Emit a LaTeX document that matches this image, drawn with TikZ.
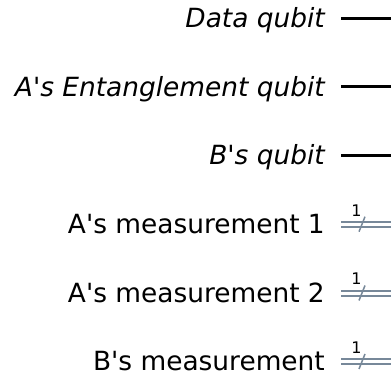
\documentclass[tikz,border=0pt]{standalone}
\usepackage{fontspec}
% plain family: keeps the straight apostrophe
\newfontfamily\dvs{DejaVu Sans}
\definecolor{cwire}{HTML}{778899}
\begin{document}
\begin{tikzpicture}[x=1pt,y=-1pt,
  lbl/.style={anchor=base east, inner sep=0pt, font=\dvs\fontsize{26.4}{30}\selectfont},
  qlbl/.style={lbl, font=\dvs\fontsize{26.4}{30}\selectfont\itshape},
  qwire/.style={draw=black, line width=3pt},
  cwireline/.style={draw=cwire, line width=2pt},
  bits/.style={inner sep=0pt, font=\dvs\fontsize{16}{18}\selectfont}]
\useasboundingbox (0,0) rectangle (391,374);
% quantum register labels and wires
\foreach \name/\y/\txt in {q0/18.5/{Data qubit}, q1/87/{A's Entanglement qubit}, q2/155.5/{B's qubit}} {
  \node[qlbl] (\name) at (325,\y+9.4) {\txt};
  \coordinate (\name s) at (341,\y);
  \coordinate (\name e) at (391,\y);
  \draw[qwire] (\name s) -- (\name e);
}
% classical register labels and double wires
\foreach \name/\y/\txt in {c0/224.2/{A's measurement 1}, c1/293/{A's measurement 2}, c2/361.5/{B's measurement}} {
  \node[lbl] (\name) at (325,\y+9.4) {\txt};
  \coordinate (\name s) at (341,\y);
  \coordinate (\name e) at (391,\y);
  \draw[cwireline] ([yshift=-2.5pt]\name s) -- ([yshift=-2.5pt]\name e);
  \draw[cwireline] ([yshift=2.5pt]\name s) -- ([yshift=2.5pt]\name e);
  \coordinate (\name m) at (362,\y);
  \draw[cwire, line width=1.5pt] ([shift={(-3,7.5)}]\name m) -- ([shift={(3,-7.5)}]\name m);
  \node[bits] (\name n) at (356.5,\y-14) {1};
}
\end{tikzpicture}
\end{document}
